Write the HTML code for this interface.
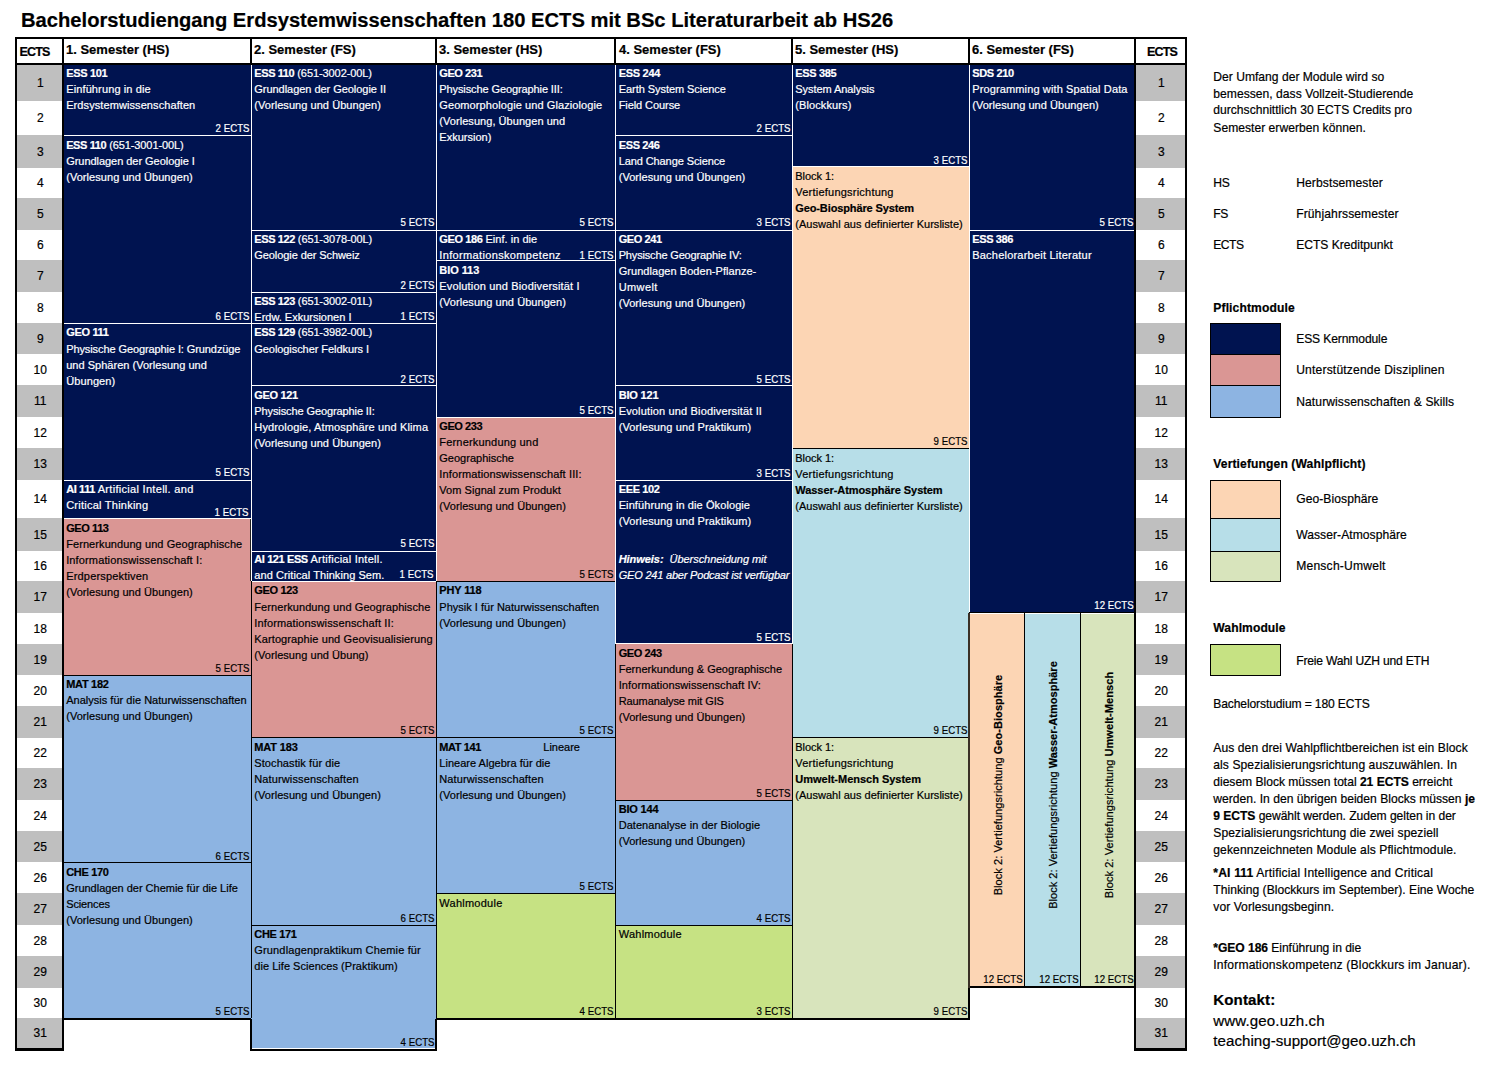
<!DOCTYPE html><html><head><meta charset='utf-8'><title>Bachelorstudiengang Erdsystemwissenschaften</title><style>
html,body{margin:0;padding:0;background:#fff;}
body{-webkit-text-stroke:0.2px;width:1496px;height:1066px;position:relative;overflow:hidden;font-family:"Liberation Sans",sans-serif;font-size:11px;color:#000;}
.a{position:absolute;}
.m{position:absolute;overflow:hidden;box-sizing:border-box;}
.t{position:absolute;left:1px;top:0px;line-height:16px;white-space:nowrap;}
.t b{letter-spacing:-0.4px;} .t b.l{letter-spacing:0;}
.e{position:absolute;right:1px;bottom:-1px;line-height:16px;white-space:nowrap;transform:scaleX(0.88);transform-origin:100% 50%;}
.n{color:#fff;}
.h{position:absolute;top:40px;height:23px;line-height:20px;font-weight:bold;font-size:13px;white-space:nowrap;}
.num{position:absolute;width:45px;text-align:center;font-size:12px;text-indent:1.5px;}
.k{position:absolute;background:#000;}
.w{position:absolute;background:#fff;}
.r{position:absolute;left:1213px;white-space:nowrap;line-height:17px;font-size:12.1px;}
.r2{position:absolute;left:1296px;white-space:nowrap;line-height:17px;font-size:12.1px;}
</style></head><body>
<div class='a' style='left:21px;top:7px;font-size:20.18px;font-weight:bold;line-height:26px;white-space:nowrap'>Bachelorstudiengang Erdsystemwissenschaften 180 ECTS mit BSc Literaturarbeit ab HS26</div>
<div class='num' style='left:17px;top:65px;height:36px;line-height:37px;background:#bfbfbf;width:45px'>1</div>
<div class='num' style='left:17px;top:101px;height:34px;line-height:35px;background:#fff;width:45px'>2</div>
<div class='num' style='left:17px;top:135px;height:33px;line-height:34px;background:#bfbfbf;width:45px'>3</div>
<div class='num' style='left:17px;top:168px;height:30px;line-height:31px;background:#fff;width:45px'>4</div>
<div class='num' style='left:17px;top:198px;height:32px;line-height:33px;background:#bfbfbf;width:45px'>5</div>
<div class='num' style='left:17px;top:230px;height:30px;line-height:31px;background:#fff;width:45px'>6</div>
<div class='num' style='left:17px;top:260px;height:32px;line-height:33px;background:#bfbfbf;width:45px'>7</div>
<div class='num' style='left:17px;top:292px;height:31px;line-height:32px;background:#fff;width:45px'>8</div>
<div class='num' style='left:17px;top:323px;height:31px;line-height:32px;background:#bfbfbf;width:45px'>9</div>
<div class='num' style='left:17px;top:354px;height:31px;line-height:32px;background:#fff;width:45px'>10</div>
<div class='num' style='left:17px;top:385px;height:32px;line-height:33px;background:#bfbfbf;width:45px'>11</div>
<div class='num' style='left:17px;top:417px;height:31px;line-height:32px;background:#fff;width:45px'>12</div>
<div class='num' style='left:17px;top:448px;height:32px;line-height:33px;background:#bfbfbf;width:45px'>13</div>
<div class='num' style='left:17px;top:480px;height:38px;line-height:39px;background:#fff;width:45px'>14</div>
<div class='num' style='left:17px;top:518px;height:33px;line-height:34px;background:#bfbfbf;width:45px'>15</div>
<div class='num' style='left:17px;top:551px;height:30px;line-height:31px;background:#fff;width:45px'>16</div>
<div class='num' style='left:17px;top:581px;height:32px;line-height:33px;background:#bfbfbf;width:45px'>17</div>
<div class='num' style='left:17px;top:613px;height:31px;line-height:32px;background:#fff;width:45px'>18</div>
<div class='num' style='left:17px;top:644px;height:31px;line-height:32px;background:#bfbfbf;width:45px'>19</div>
<div class='num' style='left:17px;top:675px;height:31px;line-height:32px;background:#fff;width:45px'>20</div>
<div class='num' style='left:17px;top:706px;height:32px;line-height:33px;background:#bfbfbf;width:45px'>21</div>
<div class='num' style='left:17px;top:738px;height:30px;line-height:31px;background:#fff;width:45px'>22</div>
<div class='num' style='left:17px;top:768px;height:32px;line-height:33px;background:#bfbfbf;width:45px'>23</div>
<div class='num' style='left:17px;top:800px;height:31px;line-height:32px;background:#fff;width:45px'>24</div>
<div class='num' style='left:17px;top:831px;height:31px;line-height:32px;background:#bfbfbf;width:45px'>25</div>
<div class='num' style='left:17px;top:862px;height:31px;line-height:32px;background:#fff;width:45px'>26</div>
<div class='num' style='left:17px;top:893px;height:32px;line-height:33px;background:#bfbfbf;width:45px'>27</div>
<div class='num' style='left:17px;top:925px;height:31px;line-height:32px;background:#fff;width:45px'>28</div>
<div class='num' style='left:17px;top:956px;height:32px;line-height:33px;background:#bfbfbf;width:45px'>29</div>
<div class='num' style='left:17px;top:988px;height:30px;line-height:31px;background:#fff;width:45px'>30</div>
<div class='num' style='left:17px;top:1018px;height:30px;line-height:31px;background:#bfbfbf;width:45px'>31</div>
<div class='num' style='left:1136px;top:65px;height:36px;line-height:37px;background:#bfbfbf;width:49px'>1</div>
<div class='num' style='left:1136px;top:101px;height:34px;line-height:35px;background:#fff;width:49px'>2</div>
<div class='num' style='left:1136px;top:135px;height:33px;line-height:34px;background:#bfbfbf;width:49px'>3</div>
<div class='num' style='left:1136px;top:168px;height:30px;line-height:31px;background:#fff;width:49px'>4</div>
<div class='num' style='left:1136px;top:198px;height:32px;line-height:33px;background:#bfbfbf;width:49px'>5</div>
<div class='num' style='left:1136px;top:230px;height:30px;line-height:31px;background:#fff;width:49px'>6</div>
<div class='num' style='left:1136px;top:260px;height:32px;line-height:33px;background:#bfbfbf;width:49px'>7</div>
<div class='num' style='left:1136px;top:292px;height:31px;line-height:32px;background:#fff;width:49px'>8</div>
<div class='num' style='left:1136px;top:323px;height:31px;line-height:32px;background:#bfbfbf;width:49px'>9</div>
<div class='num' style='left:1136px;top:354px;height:31px;line-height:32px;background:#fff;width:49px'>10</div>
<div class='num' style='left:1136px;top:385px;height:32px;line-height:33px;background:#bfbfbf;width:49px'>11</div>
<div class='num' style='left:1136px;top:417px;height:31px;line-height:32px;background:#fff;width:49px'>12</div>
<div class='num' style='left:1136px;top:448px;height:32px;line-height:33px;background:#bfbfbf;width:49px'>13</div>
<div class='num' style='left:1136px;top:480px;height:38px;line-height:39px;background:#fff;width:49px'>14</div>
<div class='num' style='left:1136px;top:518px;height:33px;line-height:34px;background:#bfbfbf;width:49px'>15</div>
<div class='num' style='left:1136px;top:551px;height:30px;line-height:31px;background:#fff;width:49px'>16</div>
<div class='num' style='left:1136px;top:581px;height:32px;line-height:33px;background:#bfbfbf;width:49px'>17</div>
<div class='num' style='left:1136px;top:613px;height:31px;line-height:32px;background:#fff;width:49px'>18</div>
<div class='num' style='left:1136px;top:644px;height:31px;line-height:32px;background:#bfbfbf;width:49px'>19</div>
<div class='num' style='left:1136px;top:675px;height:31px;line-height:32px;background:#fff;width:49px'>20</div>
<div class='num' style='left:1136px;top:706px;height:32px;line-height:33px;background:#bfbfbf;width:49px'>21</div>
<div class='num' style='left:1136px;top:738px;height:30px;line-height:31px;background:#fff;width:49px'>22</div>
<div class='num' style='left:1136px;top:768px;height:32px;line-height:33px;background:#bfbfbf;width:49px'>23</div>
<div class='num' style='left:1136px;top:800px;height:31px;line-height:32px;background:#fff;width:49px'>24</div>
<div class='num' style='left:1136px;top:831px;height:31px;line-height:32px;background:#bfbfbf;width:49px'>25</div>
<div class='num' style='left:1136px;top:862px;height:31px;line-height:32px;background:#fff;width:49px'>26</div>
<div class='num' style='left:1136px;top:893px;height:32px;line-height:33px;background:#bfbfbf;width:49px'>27</div>
<div class='num' style='left:1136px;top:925px;height:31px;line-height:32px;background:#fff;width:49px'>28</div>
<div class='num' style='left:1136px;top:956px;height:32px;line-height:33px;background:#bfbfbf;width:49px'>29</div>
<div class='num' style='left:1136px;top:988px;height:30px;line-height:31px;background:#fff;width:49px'>30</div>
<div class='num' style='left:1136px;top:1018px;height:30px;line-height:31px;background:#bfbfbf;width:49px'>31</div>
<div class='m n' style='left:64px;top:65px;width:187px;height:70px;background:#001350'><div class='t' style='left:2.2px;top:0px'><b style='letter-spacing:-0.325px'>ESS 101</b><div style='margin-top:0px'><span style='letter-spacing:0.123px'>Einführung in die</span><br><span style='letter-spacing:0.086px'>Erdsystemwissenschaften</span></div></div><div class='e' style='right:1px;bottom:-1px'>2 ECTS</div></div>
<div class='m n' style='left:64px;top:135px;width:187px;height:188px;background:#001350'><div class='t' style='left:2.2px;top:2px'><b>ESS 110</b><span style='letter-spacing:-0.101px'> (651-3001-00L)</span><div style='margin-top:0px'><span style='letter-spacing:-0.040px'>Grundlagen der Geologie I</span><br><span style='letter-spacing:0.053px'>(Vorlesung und Übungen)</span></div></div><div class='e' style='right:1px;bottom:-1px'>6 ECTS</div></div>
<div class='m n' style='left:64px;top:323px;width:187px;height:157px;background:#001350'><div class='t' style='left:2.2px;top:1px'><b style='letter-spacing:-0.322px'>GEO 111</b><div style='margin-top:1px'><span style='letter-spacing:-0.096px'>Physische Geographie I: Grundzüge</span><br><span style='letter-spacing:0.023px'>und Sphären (Vorlesung und</span><br><span style='letter-spacing:0.103px'>Übungen)</span></div></div><div class='e' style='right:1px;bottom:0px'>5 ECTS</div></div>
<div class='m n' style='left:64px;top:480px;width:187px;height:38px;background:#001350'><div class='t' style='left:2.2px;top:1px'><b>AI 111</b><span style='letter-spacing:0.299px'> Artificial Intell. and</span><div style='margin-top:0px'><span style='letter-spacing:0.240px'>Critical Thinking</span></div></div><div class='e' style='right:2px;bottom:-1.7px'>1 ECTS</div></div>
<div class='m' style='left:64px;top:518px;width:187px;height:157px;background:#da9694'><div class='t' style='left:2.2px;top:2px'><b style='letter-spacing:-0.409px'>GEO 113</b><div style='margin-top:0px'><span style='letter-spacing:0.079px'>Fernerkundung und Geographische</span><br><span style='letter-spacing:0.129px'>Informationswissenschaft I:</span><br><span style='letter-spacing:0.177px'>Erdperspektiven</span><br><span style='letter-spacing:0.053px'>(Vorlesung und Übungen)</span></div></div><div class='e' style='right:1px;bottom:-1px'>5 ECTS</div></div>
<div class='m' style='left:64px;top:675px;width:187px;height:187px;background:#8db4e2'><div class='t' style='left:2.2px;top:1px'><b style='letter-spacing:-0.289px'>MAT 182</b><div style='margin-top:0px'><span style='letter-spacing:0.018px'>Analysis für die Naturwissenschaften</span><br><span style='letter-spacing:0.053px'>(Vorlesung und Übungen)</span></div></div><div class='e' style='right:1px;bottom:-1.8px'>6 ECTS</div></div>
<div class='m' style='left:64px;top:862px;width:187px;height:156px;background:#8db4e2'><div class='t' style='left:2.2px;top:2px'><b style='letter-spacing:-0.320px'>CHE 170</b><div style='margin-top:0px'><span style='letter-spacing:-0.005px'>Grundlagen der Chemie für die Life</span><br><span style='letter-spacing:-0.124px'>Sciences</span><br><span style='letter-spacing:0.053px'>(Vorlesung und Übungen)</span></div></div><div class='e' style='right:1px;bottom:-1px'>5 ECTS</div></div>
<div class='m n' style='left:251px;top:65px;width:185px;height:165px;background:#001350'><div class='t' style='left:3.3px;top:0px'><b>ESS 110</b><span style='letter-spacing:-0.085px'> (651-3002-00L)</span><div style='margin-top:0px'><span style='letter-spacing:-0.041px'>Grundlagen der Geologie II</span><br><span style='letter-spacing:0.053px'>(Vorlesung und Übungen)</span></div></div><div class='e' style='right:1px;bottom:-0.25px'>5 ECTS</div></div>
<div class='m n' style='left:251px;top:230px;width:185px;height:62px;background:#001350'><div class='t' style='left:3.3px;top:1px'><b>ESS 122</b><span style='letter-spacing:-0.124px'> (651-3078-00L)</span><div style='margin-top:0px'><span style='letter-spacing:-0.081px'>Geologie der Schweiz</span></div></div><div class='e' style='right:1px;bottom:-1px'>2 ECTS</div></div>
<div class='m n' style='left:251px;top:292px;width:185px;height:31px;background:#001350'><div class='t' style='left:3.3px;top:1px'><b>ESS 123</b><span style='letter-spacing:-0.124px'> (651-3002-01L)</span><div style='margin-top:0px'><span style='letter-spacing:-0.004px'>Erdw. Exkursionen I</span></div></div><div class='e' style='right:1px;bottom:-1px'>1 ECTS</div></div>
<div class='m n' style='left:251px;top:323px;width:185px;height:62px;background:#001350'><div class='t' style='left:3.3px;top:1px'><b>ESS 129</b><span style='letter-spacing:-0.124px'> (651-3982-00L)</span><div style='margin-top:1px'><span style='letter-spacing:-0.066px'>Geologischer Feldkurs I</span></div></div><div class='e' style='right:1px;bottom:-1.7px'>2 ECTS</div></div>
<div class='m n' style='left:251px;top:385px;width:185px;height:166px;background:#001350'><div class='t' style='left:3.3px;top:2px'><b style='letter-spacing:-0.351px'>GEO 121</b><div style='margin-top:0px'><span style='letter-spacing:-0.104px'>Physische Geographie II:</span><br><span style='letter-spacing:0.141px'>Hydrologie, Atmosphäre und Klima</span><br><span style='letter-spacing:0.053px'>(Vorlesung und Übungen)</span></div></div><div class='e' style='right:1px;bottom:0px'>5 ECTS</div></div>
<div class='m n' style='left:251px;top:551px;width:185px;height:30px;background:#001350'><div class='t' style='left:3.3px;top:0px'><b>AI 121 ESS</b><span style='letter-spacing:0.242px'> Artificial Intell.</span><div style='margin-top:0px'><span style='letter-spacing:0.075px'>and Critical Thinking Sem.</span></div></div><div class='e' style='right:2.3px;bottom:-1px'>1 ECTS</div></div>
<div class='m' style='left:251px;top:581px;width:185px;height:157px;background:#da9694'><div class='t' style='left:3.3px;top:1px'><b style='letter-spacing:-0.351px'>GEO 123</b><div style='margin-top:1px'><span style='letter-spacing:0.079px'>Fernerkundung und Geographische</span><br><span style='letter-spacing:0.140px'>Informationswissenschaft II:</span><br><span style='letter-spacing:0.103px'>Kartographie und Geovisualisierung</span><br><span style='letter-spacing:0.048px'>(Vorlesung und Übung)</span></div></div><div class='e' style='right:1px;bottom:-0.30000000000000004px'>5 ECTS</div></div>
<div class='m' style='left:251px;top:738px;width:185px;height:187px;background:#8db4e2'><div class='t' style='left:3.3px;top:1px'><b style='letter-spacing:-0.146px'>MAT 183</b><div style='margin-top:0px'><span style='letter-spacing:0.085px'>Stochastik für die</span><br><span style='letter-spacing:0.121px'>Naturwissenschaften</span><br><span style='letter-spacing:0.053px'>(Vorlesung und Übungen)</span></div></div><div class='e' style='right:1px;bottom:-1px'>6 ECTS</div></div>
<div class='m' style='left:251px;top:925px;width:185px;height:123px;background:#8db4e2'><div class='t' style='left:3.3px;top:1px'><b style='letter-spacing:-0.356px'>CHE 171</b><div style='margin-top:0px'><span style='letter-spacing:0.154px'>Grundlagenpraktikum Chemie für</span><br><span style='letter-spacing:0.033px'>die Life Sciences (Praktikum)</span></div></div><div class='e' style='right:1px;bottom:-2px'>4 ECTS</div></div>
<div class='m n' style='left:436px;top:65px;width:179px;height:165px;background:#001350'><div class='t' style='left:3.3px;top:0px'><b style='letter-spacing:-0.423px'>GEO 231</b><div style='margin-top:0px'><span style='letter-spacing:-0.103px'>Physische Geographie III:</span><br><span style='letter-spacing:0.089px'>Geomorphologie und Glaziologie</span><br><span style='letter-spacing:0.049px'>(Vorlesung, Übungen und</span><br><span style='letter-spacing:0.018px'>Exkursion)</span></div></div><div class='e' style='right:1px;bottom:0px'>5 ECTS</div></div>
<div class='m n' style='left:436px;top:230px;width:179px;height:30px;background:#001350'><div class='t' style='left:3.3px;top:1px'><b>GEO 186</b><span style='letter-spacing:0.032px'> Einf. in die</span><div style='margin-top:0px'><span style='letter-spacing:0.348px'>Informationskompetenz</span></div></div><div class='e' style='right:1px;bottom:-3px'>1 ECTS</div></div>
<div class='m n' style='left:436px;top:260px;width:179px;height:157px;background:#001350'><div class='t' style='left:3.3px;top:2px'><b style='letter-spacing:-0.066px'>BIO 113</b><div style='margin-top:0px'><span style='letter-spacing:0.160px'>Evolution und Biodiversität I</span><br><span style='letter-spacing:0.053px'>(Vorlesung und Übungen)</span></div></div><div class='e' style='right:1px;bottom:-1px'>5 ECTS</div></div>
<div class='m' style='left:436px;top:417px;width:179px;height:164px;background:#da9694'><div class='t' style='left:3.3px;top:1px'><b style='letter-spacing:-0.423px'>GEO 233</b><div style='margin-top:0px'><span style='letter-spacing:0.184px'>Fernerkundung und</span><br><span style='letter-spacing:0.003px'>Geographische</span><br><span style='letter-spacing:0.125px'>Informationswissenschaft III:</span><br><span style='letter-spacing:0.054px'>Vom Signal zum Produkt</span><br><span style='letter-spacing:0.053px'>(Vorlesung und Übungen)</span></div></div><div class='e' style='right:1px;bottom:-1px'>5 ECTS</div></div>
<div class='m' style='left:436px;top:581px;width:179px;height:157px;background:#8db4e2'><div class='t' style='left:3.3px;top:1px'><b style='letter-spacing:-0.155px'>PHY 118</b><div style='margin-top:1px'><span style='letter-spacing:0.010px'>Physik I für Naturwissenschaften</span><br><span style='letter-spacing:0.053px'>(Vorlesung und Übungen)</span></div></div><div class='e' style='right:1px;bottom:0px'>5 ECTS</div></div>
<div class='m' style='left:436px;top:738px;width:179px;height:155px;background:#8db4e2'><div class='t' style='left:3.3px;top:1px'><b>MAT 141</b><span style='position:absolute;left:104px'>Lineare</span><div style='margin-top:0px'><span style='letter-spacing:0.020px'>Lineare Algebra für die</span><br><span style='letter-spacing:0.121px'>Naturwissenschaften</span><br><span style='letter-spacing:0.053px'>(Vorlesung und Übungen)</span></div></div><div class='e' style='right:1px;bottom:-1px'>5 ECTS</div></div>
<div class='m' style='left:436px;top:893px;width:179px;height:125px;background:#c6e283'><div class='t' style='left:3.3px;top:2px'><span style='letter-spacing:0.247px'>Wahlmodule</span></div><div class='e' style='right:1px;bottom:-1px'>4 ECTS</div></div>
<div class='m n' style='left:615px;top:65px;width:177px;height:70px;background:#001350'><div class='t' style='left:3.7px;top:0px'><b style='letter-spacing:-0.289px'>ESS 244</b><div style='margin-top:0px'><span style='letter-spacing:-0.053px'>Earth System Science</span><br><span style='letter-spacing:-0.080px'>Field Course</span></div></div><div class='e' style='right:1px;bottom:-1px'>2 ECTS</div></div>
<div class='m n' style='left:615px;top:135px;width:177px;height:95px;background:#001350'><div class='t' style='left:3.7px;top:2px'><b style='letter-spacing:-0.360px'>ESS 246</b><div style='margin-top:0px'><span style='letter-spacing:-0.097px'>Land Change Science</span><br><span style='letter-spacing:0.053px'>(Vorlesung und Übungen)</span></div></div><div class='e' style='right:1px;bottom:0px'>3 ECTS</div></div>
<div class='m n' style='left:615px;top:230px;width:177px;height:155px;background:#001350'><div class='t' style='left:3.7px;top:1px'><b style='letter-spacing:-0.423px'>GEO 241</b><div style='margin-top:0px'><span style='letter-spacing:-0.162px'>Physische Geographie IV:</span><br><span style='letter-spacing:0.051px'>Grundlagen Boden-Pflanze-</span><br><span style='letter-spacing:0.400px'>Umwelt</span><br><span style='letter-spacing:0.053px'>(Vorlesung und Übungen)</span></div></div><div class='e' style='right:1px;bottom:-2px'>5 ECTS</div></div>
<div class='m n' style='left:615px;top:385px;width:177px;height:95px;background:#001350'><div class='t' style='left:3.7px;top:2px'><b style='letter-spacing:-0.188px'>BIO 121</b><div style='margin-top:0px'><span style='letter-spacing:0.153px'>Evolution und Biodiversität II</span><br><span style='letter-spacing:0.121px'>(Vorlesung und Praktikum)</span></div></div><div class='e' style='right:1px;bottom:-1px'>3 ECTS</div></div>
<div class='m n' style='left:615px;top:480px;width:177px;height:164px;background:#001350'><div class='t' style='left:3.7px;top:1px'><b style='letter-spacing:-0.360px'>EEE 102</b><div style='margin-top:0px'><span style='letter-spacing:0.091px'>Einführung in die Ökologie</span><br><span style='letter-spacing:0.121px'>(Vorlesung und Praktikum)</span></div></div><div class='e' style='right:1px;bottom:-1px'>5 ECTS</div></div>
<div class='m' style='left:615px;top:644px;width:177px;height:156px;background:#da9694'><div class='t' style='left:3.7px;top:1px'><b style='letter-spacing:-0.423px'>GEO 243</b><div style='margin-top:0px'><span style='letter-spacing:0.025px'>Fernerkundung &amp; Geographische</span><br><span style='letter-spacing:0.091px'>Informationswissenschaft IV:</span><br><span style='letter-spacing:-0.097px'>Raumanalyse mit GIS</span><br><span style='letter-spacing:0.053px'>(Vorlesung und Übungen)</span></div></div><div class='e' style='right:1px;bottom:-1px'>5 ECTS</div></div>
<div class='m' style='left:615px;top:800px;width:177px;height:125px;background:#8db4e2'><div class='t' style='left:3.7px;top:1px'><b style='letter-spacing:-0.188px'>BIO 144</b><div style='margin-top:0px'><span style='letter-spacing:0.048px'>Datenanalyse in der Biologie</span><br><span style='letter-spacing:0.053px'>(Vorlesung und Übungen)</span></div></div><div class='e' style='right:1px;bottom:-1px'>4 ECTS</div></div>
<div class='m' style='left:615px;top:925px;width:177px;height:93px;background:#c6e283'><div class='t' style='left:3.7px;top:1px'><span style='letter-spacing:0.247px'>Wahlmodule</span></div><div class='e' style='right:1px;bottom:-1px'>3 ECTS</div></div>
<div class='m n' style='left:792px;top:65px;width:177px;height:102px;background:#001350'><div class='t' style='left:3.3px;top:0px'><b style='letter-spacing:-0.360px'>ESS 385</b><div style='margin-top:0px'><span style='letter-spacing:-0.063px'>System Analysis</span><br><span style='letter-spacing:0.103px'>(Blockkurs)</span></div></div><div class='e' style='right:1px;bottom:-1px'>3 ECTS</div></div>
<div class='m' style='left:792px;top:167px;width:177px;height:281px;background:#fcd5b4'><div class='t' style='left:3.3px;top:1px'><span style='letter-spacing:-0.061px'>Block 1:</span><div style='margin-top:0px'><span style='letter-spacing:0.223px'>Vertiefungsrichtung</span><br><b style='letter-spacing:-0.120px'>Geo-Biosphäre System</b><br><span style='letter-spacing:0.014px'>(Auswahl aus definierter Kursliste)</span></div></div><div class='e' style='right:1px;bottom:-1px'>9 ECTS</div></div>
<div class='m' style='left:792px;top:448px;width:177px;height:290px;background:#b7dee8'><div class='t' style='left:3.3px;top:2px'><span style='letter-spacing:-0.061px'>Block 1:</span><div style='margin-top:0px'><span style='letter-spacing:0.223px'>Vertiefungsrichtung</span><br><b style='letter-spacing:-0.061px'>Wasser-Atmosphäre System</b><br><span style='letter-spacing:0.014px'>(Auswahl aus definierter Kursliste)</span></div></div><div class='e' style='right:1px;bottom:0px'>9 ECTS</div></div>
<div class='m' style='left:792px;top:738px;width:177px;height:280px;background:#d8e4bc'><div class='t' style='left:3.3px;top:1px'><span style='letter-spacing:-0.061px'>Block 1:</span><div style='margin-top:0px'><span style='letter-spacing:0.223px'>Vertiefungsrichtung</span><br><b style='letter-spacing:-0.012px'>Umwelt-Mensch System</b><br><span style='letter-spacing:0.014px'>(Auswahl aus definierter Kursliste)</span></div></div><div class='e' style='right:1px;bottom:-1px'>9 ECTS</div></div>
<div class='m n' style='left:969px;top:65px;width:166px;height:165px;background:#001350'><div class='t' style='left:3.2px;top:0px'><b style='letter-spacing:-0.340px'>SDS 210</b><div style='margin-top:0px'><span style='letter-spacing:0.130px'>Programming with Spatial Data</span><br><span style='letter-spacing:0.053px'>(Vorlesung und Übungen)</span></div></div><div class='e' style='right:1px;bottom:-0.25px'>5 ECTS</div></div>
<div class='m n' style='left:969px;top:230px;width:166px;height:383px;background:#001350'><div class='t' style='left:3.2px;top:1px'><b style='letter-spacing:-0.360px'>ESS 386</b><div style='margin-top:0px'><span style='letter-spacing:0.221px'>Bachelorarbeit Literatur</span></div></div><div class='e' style='right:1px;bottom:0px'>12 ECTS</div></div>
<div class='m' style='left:969px;top:613px;width:55px;height:375px;background:#fcd5b4'><div class='e' style='bottom:1px'>12 ECTS</div></div>
<div class='a' style='left:998px;top:784.5px;width:0;height:0'><div class='a' style='white-space:nowrap;line-height:16px;transform:translate(-50%,-50%) rotate(-90deg);letter-spacing:0.055px'>Block 2: Vertiefungsrichtung <b>Geo-Biosphäre</b></div></div>
<div class='m' style='left:1024px;top:613px;width:56px;height:375px;background:#b7dee8'><div class='e' style='bottom:1px'>12 ECTS</div></div>
<div class='a' style='left:1053px;top:784.5px;width:0;height:0'><div class='a' style='white-space:nowrap;line-height:16px;transform:translate(-50%,-50%) rotate(-90deg);letter-spacing:0.035px'>Block 2: Vertiefungsrichtung <b>Wasser-Atmosphäre</b></div></div>
<div class='m' style='left:1080px;top:613px;width:55px;height:375px;background:#d8e4bc'><div class='e' style='bottom:1px'>12 ECTS</div></div>
<div class='a' style='left:1108.5px;top:784.5px;width:0;height:0'><div class='a' style='white-space:nowrap;line-height:16px;transform:translate(-50%,-50%) rotate(-90deg);letter-spacing:0.08px'>Block 2: Vertiefungsrichtung <b>Umwelt-Mensch</b></div></div>
<div class='a n' style='left:618.7px;top:551px;line-height:16px;white-space:nowrap;font-style:italic;letter-spacing:-0.05px'><b>Hinweis:</b>&nbsp; Überschneidung mit<br><span style='letter-spacing:-0.2px'>GEO 241 aber Podcast ist verfügbar</span></div>
<div class='k' style='left:64px;top:135px;width:187px;height:1px;background:#fff'></div>
<div class='k' style='left:64px;top:323px;width:187px;height:1px;background:#fff'></div>
<div class='k' style='left:64px;top:480px;width:187px;height:1px;background:#fff'></div>
<div class='k' style='left:64px;top:518px;width:187px;height:1px;background:#fff'></div>
<div class='k' style='left:64px;top:675px;width:187px;height:1px;background:#000'></div>
<div class='k' style='left:64px;top:862px;width:187px;height:1px;background:#000'></div>
<div class='k' style='left:251px;top:230px;width:185px;height:1px;background:#fff'></div>
<div class='k' style='left:251px;top:292px;width:185px;height:1px;background:#fff'></div>
<div class='k' style='left:251px;top:323px;width:185px;height:1px;background:#fff'></div>
<div class='k' style='left:251px;top:385px;width:185px;height:1px;background:#fff'></div>
<div class='k' style='left:251px;top:551px;width:185px;height:1px;background:#fff'></div>
<div class='k' style='left:251px;top:581px;width:185px;height:1px;background:#fff'></div>
<div class='k' style='left:251px;top:737px;width:185px;height:1px;background:#000'></div>
<div class='k' style='left:251px;top:925px;width:185px;height:1px;background:#000'></div>
<div class='k' style='left:436px;top:230px;width:179px;height:1px;background:#fff'></div>
<div class='k' style='left:436px;top:260px;width:179px;height:1px;background:#fff'></div>
<div class='k' style='left:436px;top:417px;width:179px;height:1px;background:#fff'></div>
<div class='k' style='left:436px;top:581px;width:179px;height:1px;background:#000'></div>
<div class='k' style='left:436px;top:737px;width:179px;height:1px;background:#000'></div>
<div class='k' style='left:436px;top:893px;width:179px;height:1px;background:#000'></div>
<div class='k' style='left:615px;top:135px;width:177px;height:1px;background:#fff'></div>
<div class='k' style='left:615px;top:230px;width:177px;height:1px;background:#fff'></div>
<div class='k' style='left:615px;top:385px;width:177px;height:1px;background:#fff'></div>
<div class='k' style='left:615px;top:480px;width:177px;height:1px;background:#fff'></div>
<div class='k' style='left:615px;top:643px;width:177px;height:1px;background:#fff'></div>
<div class='k' style='left:615px;top:800px;width:177px;height:1px;background:#000'></div>
<div class='k' style='left:615px;top:925px;width:177px;height:1px;background:#000'></div>
<div class='k' style='left:792px;top:166px;width:177px;height:1px;background:#fff'></div>
<div class='k' style='left:792px;top:448px;width:177px;height:1px;background:#000'></div>
<div class='k' style='left:792px;top:737px;width:177px;height:1px;background:#000'></div>
<div class='k' style='left:969px;top:230px;width:166px;height:1px;background:#fff'></div>
<div class='k' style='left:969px;top:613px;width:166px;height:1px;background:#fff'></div>
<div class='k' style='left:251px;top:65px;width:1px;height:70px;background:#fff'></div>
<div class='k' style='left:251px;top:135px;width:1px;height:95px;background:#fff'></div>
<div class='k' style='left:251px;top:230px;width:1px;height:62px;background:#fff'></div>
<div class='k' style='left:251px;top:292px;width:1px;height:31px;background:#fff'></div>
<div class='k' style='left:251px;top:323px;width:1px;height:62px;background:#fff'></div>
<div class='k' style='left:251px;top:385px;width:1px;height:95px;background:#fff'></div>
<div class='k' style='left:251px;top:480px;width:1px;height:38px;background:#fff'></div>
<div class='k' style='left:251px;top:518px;width:1px;height:33px;background:#fff'></div>
<div class='k' style='left:251px;top:551px;width:1px;height:30px;background:#fff'></div>
<div class='k' style='left:251px;top:581px;width:1px;height:94px;background:#000'></div>
<div class='k' style='left:251px;top:675px;width:1px;height:63px;background:#000'></div>
<div class='k' style='left:251px;top:738px;width:1px;height:124px;background:#000'></div>
<div class='k' style='left:251px;top:862px;width:1px;height:63px;background:#000'></div>
<div class='k' style='left:251px;top:925px;width:1px;height:93px;background:#000'></div>
<div class='k' style='left:436px;top:65px;width:1px;height:165px;background:#fff'></div>
<div class='k' style='left:436px;top:230px;width:1px;height:30px;background:#fff'></div>
<div class='k' style='left:436px;top:260px;width:1px;height:32px;background:#fff'></div>
<div class='k' style='left:436px;top:292px;width:1px;height:31px;background:#fff'></div>
<div class='k' style='left:436px;top:323px;width:1px;height:62px;background:#fff'></div>
<div class='k' style='left:436px;top:385px;width:1px;height:32px;background:#fff'></div>
<div class='k' style='left:436px;top:417px;width:1px;height:134px;background:#fff'></div>
<div class='k' style='left:436px;top:551px;width:1px;height:30px;background:#fff'></div>
<div class='k' style='left:436px;top:581px;width:1px;height:157px;background:#000'></div>
<div class='k' style='left:436px;top:738px;width:1px;height:155px;background:#000'></div>
<div class='k' style='left:436px;top:893px;width:1px;height:32px;background:#000'></div>
<div class='k' style='left:436px;top:925px;width:1px;height:93px;background:#000'></div>
<div class='k' style='left:615px;top:65px;width:1px;height:70px;background:#fff'></div>
<div class='k' style='left:615px;top:135px;width:1px;height:95px;background:#fff'></div>
<div class='k' style='left:615px;top:230px;width:1px;height:30px;background:#fff'></div>
<div class='k' style='left:615px;top:260px;width:1px;height:125px;background:#fff'></div>
<div class='k' style='left:615px;top:385px;width:1px;height:32px;background:#fff'></div>
<div class='k' style='left:615px;top:417px;width:1px;height:63px;background:#fff'></div>
<div class='k' style='left:615px;top:480px;width:1px;height:101px;background:#fff'></div>
<div class='k' style='left:615px;top:581px;width:1px;height:63px;background:#fff'></div>
<div class='k' style='left:615px;top:644px;width:1px;height:94px;background:#000'></div>
<div class='k' style='left:615px;top:738px;width:1px;height:62px;background:#000'></div>
<div class='k' style='left:615px;top:800px;width:1px;height:93px;background:#000'></div>
<div class='k' style='left:615px;top:893px;width:1px;height:32px;background:#000'></div>
<div class='k' style='left:615px;top:925px;width:1px;height:93px;background:#000'></div>
<div class='k' style='left:792px;top:65px;width:1px;height:70px;background:#fff'></div>
<div class='k' style='left:792px;top:135px;width:1px;height:33px;background:#fff'></div>
<div class='k' style='left:792px;top:168px;width:1px;height:62px;background:#fff'></div>
<div class='k' style='left:792px;top:230px;width:1px;height:155px;background:#fff'></div>
<div class='k' style='left:792px;top:385px;width:1px;height:63px;background:#fff'></div>
<div class='k' style='left:792px;top:448px;width:1px;height:32px;background:#fff'></div>
<div class='k' style='left:792px;top:480px;width:1px;height:164px;background:#fff'></div>
<div class='k' style='left:792px;top:644px;width:1px;height:94px;background:#000'></div>
<div class='k' style='left:792px;top:738px;width:1px;height:62px;background:#000'></div>
<div class='k' style='left:792px;top:800px;width:1px;height:125px;background:#000'></div>
<div class='k' style='left:792px;top:925px;width:1px;height:93px;background:#000'></div>
<div class='k' style='left:969px;top:65px;width:1px;height:103px;background:#fff'></div>
<div class='k' style='left:969px;top:168px;width:1px;height:62px;background:#fff'></div>
<div class='k' style='left:969px;top:230px;width:1px;height:218px;background:#fff'></div>
<div class='k' style='left:969px;top:448px;width:1px;height:165px;background:#fff'></div>
<div class='k' style='left:969px;top:613px;width:1px;height:125px;background:#000'></div>
<div class='k' style='left:969px;top:738px;width:1px;height:250px;background:#000'></div>
<div class='k' style='left:969px;top:612px;width:166px;height:1px;background:#000'></div>
<div class='k' style='left:1024px;top:613px;width:1px;height:375px;background:#000'></div>
<div class='k' style='left:1080px;top:613px;width:1px;height:375px;background:#000'></div>
<div class='k' style='left:250px;top:519px;width:1px;height:62px;background:#222'></div>
<div class='k' style='left:15px;top:37px;width:1172px;height:2px;background:#000'></div>
<div class='k' style='left:15px;top:63px;width:1172px;height:2px;background:#000'></div>
<div class='k' style='left:15px;top:37px;width:2px;height:1014px;background:#000'></div>
<div class='k' style='left:62px;top:37px;width:2px;height:1014px;background:#000'></div>
<div class='k' style='left:15px;top:1048px;width:49px;height:3px;background:#000'></div>
<div class='k' style='left:1134px;top:37px;width:2px;height:1014px;background:#000'></div>
<div class='k' style='left:1185px;top:37px;width:2px;height:1014px;background:#000'></div>
<div class='k' style='left:1134px;top:1048px;width:53px;height:3px;background:#000'></div>
<div class='k' style='left:250px;top:39px;width:2px;height:24px;background:#000'></div>
<div class='k' style='left:435px;top:39px;width:2px;height:24px;background:#000'></div>
<div class='k' style='left:614px;top:39px;width:2px;height:24px;background:#000'></div>
<div class='k' style='left:791px;top:39px;width:2px;height:24px;background:#000'></div>
<div class='k' style='left:968px;top:39px;width:2px;height:24px;background:#000'></div>
<div class='k' style='left:64px;top:1018px;width:187px;height:2px;background:#000'></div>
<div class='k' style='left:250px;top:1049px;width:187px;height:2px;background:#000'></div>
<div class='k' style='left:250px;top:1019px;width:2px;height:30px;background:#000'></div>
<div class='k' style='left:435px;top:1019px;width:2px;height:30px;background:#000'></div>
<div class='k' style='left:436px;top:1018px;width:533px;height:2px;background:#000'></div>
<div class='k' style='left:968px;top:986px;width:168px;height:2px;background:#000'></div>
<div class='k' style='left:968px;top:988px;width:2px;height:32px;background:#000'></div>
<div class='k' style='left:968px;top:613px;width:2px;height:375px;background:#3a3026'></div>
<div class='h' style='left:66px'>1. Semester (HS)</div>
<div class='h' style='left:254px'>2. Semester (FS)</div>
<div class='h' style='left:439px'>3. Semester (HS)</div>
<div class='h' style='left:619px'>4. Semester (FS)</div>
<div class='h' style='left:795px'>5. Semester (HS)</div>
<div class='h' style='left:972px'>6. Semester (FS)</div>
<div class='a' style='left:19.5px;top:41.5px;font-weight:bold;font-size:12.5px;letter-spacing:-0.85px;line-height:20px'>ECTS</div>
<div class='a' style='left:1137.5px;width:49px;text-align:center;top:41.5px;font-weight:bold;font-size:12.5px;letter-spacing:-0.85px;line-height:20px'>ECTS</div>
<div class='a' style='left:1213.3px;top:69.00px;font-size:12.1px;line-height:17px;white-space:nowrap;letter-spacing:0.006px'>Der Umfang der Module wird so</div>
<div class='a' style='left:1213.3px;top:86.00px;font-size:12.1px;line-height:17px;white-space:nowrap;letter-spacing:0.029px'>bemessen, dass Vollzeit-Studierende</div>
<div class='a' style='left:1213.3px;top:102.00px;font-size:12.1px;line-height:17px;white-space:nowrap;letter-spacing:0.008px'>durchschnittlich 30 ECTS Credits pro</div>
<div class='a' style='left:1213.3px;top:120.00px;font-size:12.1px;line-height:17px;white-space:nowrap;letter-spacing:0.022px'>Semester erwerben können.</div>
<div class='a' style='left:1213.3px;top:175.00px;font-size:12.1px;line-height:17px;white-space:nowrap;letter-spacing:-0.206px'>HS</div>
<div class='a' style='left:1296.2px;top:175.00px;font-size:12.1px;line-height:17px;white-space:nowrap;letter-spacing:0.096px'>Herbstsemester</div>
<div class='a' style='left:1213.3px;top:206.00px;font-size:12.1px;line-height:17px;white-space:nowrap;letter-spacing:-0.500px'>FS</div>
<div class='a' style='left:1296.2px;top:206.00px;font-size:12.1px;line-height:17px;white-space:nowrap;letter-spacing:0.098px'>Frühjahrssemester</div>
<div class='a' style='left:1213.3px;top:237.00px;font-size:12.1px;line-height:17px;white-space:nowrap;letter-spacing:-0.500px'>ECTS</div>
<div class='a' style='left:1296.2px;top:237.00px;font-size:12.1px;line-height:17px;white-space:nowrap;letter-spacing:-0.012px'>ECTS Kreditpunkt</div>
<div class='a' style='left:1213.3px;top:300.00px;font-size:12.1px;line-height:17px;white-space:nowrap;letter-spacing:0.118px'><b>Pflichtmodule</b></div>
<div class='a' style='left:1296.2px;top:331.00px;font-size:12.1px;line-height:17px;white-space:nowrap;letter-spacing:-0.120px'>ESS Kernmodule</div>
<div class='a' style='left:1296.2px;top:362.00px;font-size:12.1px;line-height:17px;white-space:nowrap;letter-spacing:0.175px'>Unterstützende Disziplinen</div>
<div class='a' style='left:1296.2px;top:394.00px;font-size:12.1px;line-height:17px;white-space:nowrap;letter-spacing:0.098px'>Naturwissenschaften &amp; Skills</div>
<div class='a' style='left:1213.3px;top:456.00px;font-size:12.1px;line-height:17px;white-space:nowrap;letter-spacing:0.112px'><b>Vertiefungen (Wahlpflicht)</b></div>
<div class='a' style='left:1296.2px;top:491.00px;font-size:12.1px;line-height:17px;white-space:nowrap;letter-spacing:0.066px'>Geo-Biosphäre</div>
<div class='a' style='left:1296.2px;top:527.00px;font-size:12.1px;line-height:17px;white-space:nowrap;letter-spacing:0.054px'>Wasser-Atmosphäre</div>
<div class='a' style='left:1296.2px;top:558.00px;font-size:12.1px;line-height:17px;white-space:nowrap;letter-spacing:0.215px'>Mensch-Umwelt</div>
<div class='a' style='left:1213.3px;top:620.00px;font-size:12.1px;line-height:17px;white-space:nowrap;letter-spacing:0.085px'><b>Wahlmodule</b></div>
<div class='a' style='left:1296.2px;top:653.00px;font-size:12.1px;line-height:17px;white-space:nowrap;letter-spacing:-0.192px'>Freie Wahl UZH und ETH</div>
<div class='a' style='left:1213.3px;top:696.00px;font-size:12.1px;line-height:17px;white-space:nowrap;letter-spacing:-0.129px'>Bachelorstudium = 180 ECTS</div>
<div class='a' style='left:1213.3px;top:740.00px;font-size:12.1px;line-height:17px;white-space:nowrap;letter-spacing:0.075px'>Aus den drei Wahlpflichtbereichen ist ein Block</div>
<div class='a' style='left:1213.3px;top:757.00px;font-size:12.1px;line-height:17px;white-space:nowrap;letter-spacing:0.071px'>als Spezialisierungsrichtung auszuwählen. In</div>
<div class='a' style='left:1213.3px;top:774.00px;font-size:12.1px;line-height:17px;white-space:nowrap;letter-spacing:-0.023px'>diesem Block müssen total <b>21 ECTS</b> erreicht</div>
<div class='a' style='left:1213.3px;top:791.00px;font-size:12.1px;line-height:17px;white-space:nowrap;letter-spacing:0.004px'>werden. In den übrigen beiden Blocks müssen <b>je</b></div>
<div class='a' style='left:1213.3px;top:808.00px;font-size:12.1px;line-height:17px;white-space:nowrap;letter-spacing:-0.052px'><b>9 ECTS</b> gewählt werden. Zudem gelten in der</div>
<div class='a' style='left:1213.3px;top:825.00px;font-size:12.1px;line-height:17px;white-space:nowrap;letter-spacing:0.082px'>Spezialisierungsrichtung die zwei speziell</div>
<div class='a' style='left:1213.3px;top:842.00px;font-size:12.1px;line-height:17px;white-space:nowrap;letter-spacing:0.092px'>gekennzeichneten Module als Pflichtmodule.</div>
<div class='a' style='left:1213.3px;top:865.00px;font-size:12.1px;line-height:17px;white-space:nowrap;letter-spacing:0.167px'><b>*AI 111</b> Artificial Intelligence and Critical</div>
<div class='a' style='left:1213.3px;top:882.00px;font-size:12.1px;line-height:17px;white-space:nowrap;letter-spacing:0.024px'>Thinking (Blockkurs im September). Eine Woche</div>
<div class='a' style='left:1213.3px;top:899.00px;font-size:12.1px;line-height:17px;white-space:nowrap;letter-spacing:0.053px'>vor Vorlesungsbeginn.</div>
<div class='a' style='left:1213.3px;top:940.00px;font-size:12.1px;line-height:17px;white-space:nowrap;letter-spacing:-0.056px'><b>*GEO 186</b> Einführung in die</div>
<div class='a' style='left:1213.3px;top:957.00px;font-size:12.1px;line-height:17px;white-space:nowrap;letter-spacing:0.180px'>Informationskompetenz (Blockkurs im Januar).</div>
<div class='a' style='left:1213.3px;top:991.00px;font-size:15.1px;line-height:17px;white-space:nowrap;letter-spacing:0.098px'><b>Kontakt:</b></div>
<div class='a' style='left:1213.3px;top:1012.00px;font-size:15.1px;line-height:17px;white-space:nowrap;letter-spacing:0.113px'>www.geo.uzh.ch</div>
<div class='a' style='left:1213.3px;top:1032.00px;font-size:15.1px;line-height:17px;white-space:nowrap;letter-spacing:0.033px'>teaching-support@geo.uzh.ch</div>
<div class='a' style='left:1210px;top:323px;width:71px;height:31px;background:#001350'></div>
<div class='a' style='left:1210px;top:354px;width:71px;height:31px;background:#da9694'></div>
<div class='a' style='left:1210px;top:385px;width:71px;height:32px;background:#8db4e2'></div>
<div class='k' style='left:1210px;top:323px;width:70px;height:1px;background:#000'></div>
<div class='k' style='left:1210px;top:417px;width:71px;height:1px;background:#000'></div>
<div class='k' style='left:1210px;top:323px;width:1px;height:94px;background:#000'></div>
<div class='k' style='left:1280px;top:323px;width:1px;height:94px;background:#000'></div>
<div class='k' style='left:1210px;top:354px;width:70px;height:1px;background:#000'></div>
<div class='k' style='left:1210px;top:385px;width:70px;height:1px;background:#000'></div>
<div class='a' style='left:1210px;top:480px;width:71px;height:38px;background:#fcd5b4'></div>
<div class='a' style='left:1210px;top:518px;width:71px;height:33px;background:#b7dee8'></div>
<div class='a' style='left:1210px;top:551px;width:71px;height:30px;background:#d8e4bc'></div>
<div class='k' style='left:1210px;top:480px;width:70px;height:1px;background:#000'></div>
<div class='k' style='left:1210px;top:581px;width:71px;height:1px;background:#000'></div>
<div class='k' style='left:1210px;top:480px;width:1px;height:101px;background:#000'></div>
<div class='k' style='left:1280px;top:480px;width:1px;height:101px;background:#000'></div>
<div class='k' style='left:1210px;top:518px;width:70px;height:1px;background:#000'></div>
<div class='k' style='left:1210px;top:551px;width:70px;height:1px;background:#000'></div>
<div class='a' style='left:1210px;top:644px;width:71px;height:31px;background:#c6e283'></div>
<div class='k' style='left:1210px;top:644px;width:70px;height:1px;background:#000'></div>
<div class='k' style='left:1210px;top:675px;width:71px;height:1px;background:#000'></div>
<div class='k' style='left:1210px;top:644px;width:1px;height:31px;background:#000'></div>
<div class='k' style='left:1280px;top:644px;width:1px;height:31px;background:#000'></div>
</body></html>
